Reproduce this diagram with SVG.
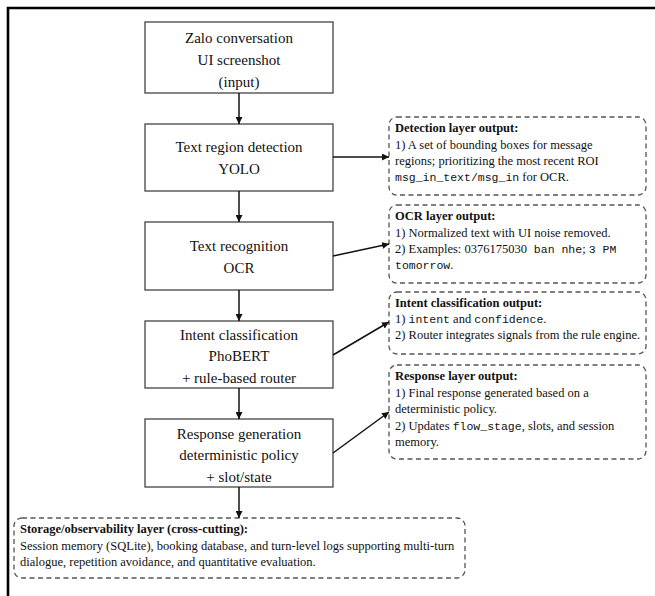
<svg xmlns="http://www.w3.org/2000/svg" width="655" height="596" viewBox="0 0 655 596">
  <style>
    .frame { stroke: #000; stroke-width: 2.6; fill: none; }
    .node rect { fill: #fff; stroke: #444; stroke-width: 1.3; }
    .node text { font-family: "Liberation Serif", "Times New Roman", serif; font-size: 15px; fill: #111; text-anchor: middle; }
    .note rect { fill: #fff; stroke: #555; stroke-width: 1.3; stroke-dasharray: 5 3.5; }
    .note text { font-family: "Liberation Serif", "Times New Roman", serif; font-size: 12.5px; fill: #111; }
    .note .title { font-weight: bold; }
    .mono { font-family: "Liberation Mono", "Courier New", monospace; font-size: 11.5px; }
    .edge { stroke: #111; stroke-width: 1.5; fill: none; marker-end: url(#arrow); }
  </style>
  <defs>
    <marker id="arrow" viewBox="0 0 10 10" refX="10" refY="5" markerWidth="7" markerHeight="7" orient="auto" markerUnits="userSpaceOnUse">
      <path d="M0,0 L10,5 L0,10 z" fill="#111"/>
    </marker>
  </defs>

  <rect width="655" height="596" fill="#fff"/>
  <!-- outer frame: only top and left edges fall inside the canvas -->
  <path class="frame" d="M8,596 L8,8 L655,8"/>

  <!-- pipeline stages -->
  <g id="input" class="node">
    <rect x="145" y="22" width="188" height="71"/>
    <text x="239" y="43">Zalo conversation</text>
    <text x="239" y="65">UI screenshot</text>
    <text x="239" y="87">(input)</text>
  </g>
  <g id="detection" class="node">
    <rect x="145" y="124" width="188" height="67"/>
    <text x="239" y="152">Text region detection</text>
    <text x="239" y="174">YOLO</text>
  </g>
  <g id="recognition" class="node">
    <rect x="145" y="222" width="188" height="68"/>
    <text x="239" y="251">Text recognition</text>
    <text x="239" y="273">OCR</text>
  </g>
  <g id="intent" class="node">
    <rect x="145" y="321" width="188" height="67"/>
    <text x="239" y="340">Intent classification</text>
    <text x="239" y="361">PhoBERT</text>
    <text x="239" y="383">+ rule-based router</text>
  </g>
  <g id="response" class="node">
    <rect x="145" y="419" width="188" height="68"/>
    <text x="239" y="439">Response generation</text>
    <text x="239" y="460">deterministic policy</text>
    <text x="239" y="482">+ slot/state</text>
  </g>

  <!-- layer output notes -->
  <g id="detection-output" class="note">
    <rect x="389" y="117" width="257" height="78" rx="8"/>
    <text x="395" y="132" class="title">Detection layer output:</text>
    <text x="395" y="149">1) A set of bounding boxes for message</text>
    <text x="395" y="165">regions; prioritizing the most recent ROI</text>
    <text x="395" y="181"><tspan class="mono">msg_in_text/msg_in</tspan> for OCR.</text>
  </g>
  <g id="ocr-output" class="note">
    <rect x="389" y="205" width="257" height="78" rx="8"/>
    <text x="395" y="220" class="title">OCR layer output:</text>
    <text x="395" y="237">1) Normalized text with UI noise removed.</text>
    <text x="395" y="253">2) Examples: 0376175030<tspan class="mono"> ban nhe</tspan>; <tspan class="mono">3 PM</tspan></text>
    <text x="395" y="269"><tspan class="mono">tomorrow</tspan>.</text>
  </g>
  <g id="intent-output" class="note">
    <rect x="389" y="292" width="257" height="62" rx="8"/>
    <text x="395" y="307" class="title">Intent classification output:</text>
    <text x="395" y="323">1) <tspan class="mono">intent</tspan> and <tspan class="mono">confidence</tspan>.</text>
    <text x="395" y="339">2) Router integrates signals from the rule engine.</text>
  </g>
  <g id="response-output" class="note">
    <rect x="389" y="365" width="257" height="94" rx="8"/>
    <text x="395" y="380" class="title">Response layer output:</text>
    <text x="395" y="397">1) Final response generated based on a</text>
    <text x="395" y="413">deterministic policy.</text>
    <text x="395" y="430">2) Updates <tspan class="mono">flow_stage</tspan>, slots, and session</text>
    <text x="395" y="446">memory.</text>
  </g>
  <g id="storage" class="note">
    <rect x="14" y="518" width="451" height="60" rx="8"/>
    <text x="20" y="533" class="title">Storage/observability layer (cross-cutting):</text>
    <text x="20" y="550">Session memory (SQLite), booking database, and turn-level logs supporting multi-turn</text>
    <text x="20" y="566">dialogue, repetition avoidance, and quantitative evaluation.</text>
  </g>

  <!-- connectors -->
  <g id="edges">
    <line class="edge" x1="239" y1="93" x2="239" y2="124"/>
    <line class="edge" x1="239" y1="191" x2="239" y2="222"/>
    <line class="edge" x1="239" y1="290" x2="239" y2="321"/>
    <line class="edge" x1="239" y1="388" x2="239" y2="419"/>
    <line class="edge" x1="239" y1="487" x2="239" y2="518"/>
    <line class="edge" x1="333" y1="157" x2="389" y2="157"/>
    <line class="edge" x1="333" y1="256" x2="389" y2="244"/>
    <line class="edge" x1="333" y1="355" x2="389" y2="322"/>
    <line class="edge" x1="333" y1="453" x2="389" y2="412"/>
  </g>
</svg>
